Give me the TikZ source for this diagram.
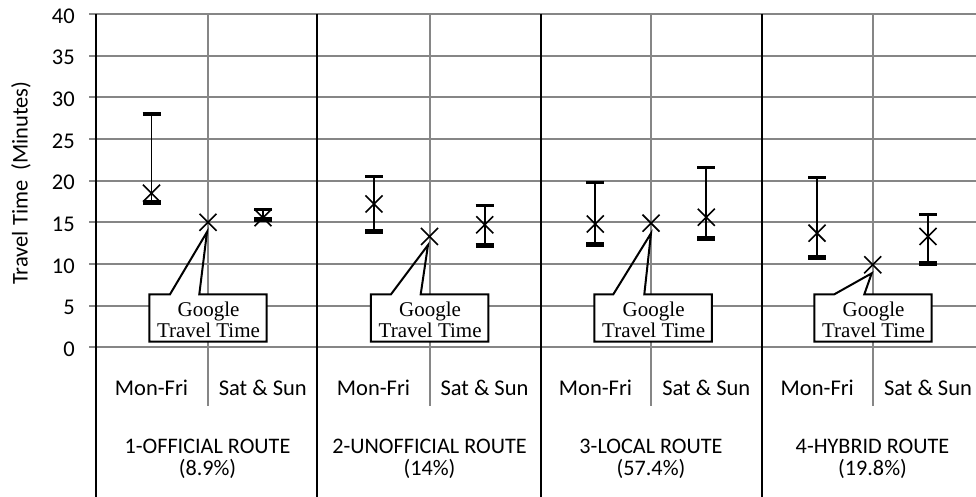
\documentclass[tikz,border=0pt]{standalone}
\usepackage{fontspec}
\newfontfamily\labfont{Carlito}
\newfontfamily\calfont{Liberation Serif}
\usetikzlibrary{calc}
\definecolor{gridgray}{RGB}{134,134,134}
\newcommand\myerrbar[4]{%
  \draw[barline] (#1,{347.3-8.333*#2}) -- (#1,{347.3-8.333*#4});
  \draw[hicap] (#1-9,{347.3-8.333*#4}) -- (#1+9,{347.3-8.333*#4});
  \draw[locap] (#1-9,{347.3-8.333*#2}) -- (#1+9,{347.3-8.333*#2});
  \draw[xmark] (#1-8.5,{347.3-8.333*#3-8.5}) -- (#1+8.5,{347.3-8.333*#3+8.5})
               (#1-8.5,{347.3-8.333*#3+8.5}) -- (#1+8.5,{347.3-8.333*#3-8.5});
}
\newcommand\mygx[2]{%
  \draw[xmark] (#1-8.5,{347.3-8.333*#2-8.5}) -- (#1+8.5,{347.3-8.333*#2+8.5})
               (#1-8.5,{347.3-8.333*#2+8.5}) -- (#1+8.5,{347.3-8.333*#2-8.5});
}
\newcommand\mycallout[6]{%
  \node[gbox] (#1) at (#2,318) {};
  \coordinate (#1tip) at (#5,#6);
  \coordinate (#1bl) at (#3,294.3);
  \coordinate (#1br) at (#4,294.3);
  \fill[white] (#1.north west) rectangle (#1.south east);
  \draw[gline] (#1bl) -- (#1tip) -- (#1br) -- (#1.north east) -- (#1.south east)
     -- (#1.south west) -- (#1.north west) -- cycle;
  \node[gtext] (#1t) at (#2+0.5,319.5) {Google\\Travel Time};
}
\begin{document}
\begin{tikzpicture}[x=1pt,y=-1pt,
  gridl/.style={draw=gridgray,line width=1.8pt},
  divider/.style={draw=black,line width=2.2pt},
  barline/.style={line width=1.8pt},
  hicap/.style={line width=3.2pt},
  locap/.style={line width=5pt},
  xmark/.style={line width=1.6pt},
  gbox/.style={minimum width=117.4pt,minimum height=47.4pt,inner sep=0pt,outer sep=0pt},
  gline/.style={draw=black,line width=2pt,line join=miter},
  gtext/.style={align=center,inner sep=0pt,font=\calfont\fontsize{21}{21.3}\selectfont},
  lbl/.style={inner sep=0pt,font=\labfont\fontsize{22.5}{24}\selectfont},
  grp/.style={inner sep=0pt,align=center,font=\labfont\fontsize{22.2}{21.5}\selectfont}]
\useasboundingbox (0,0) rectangle (976,497);
% horizontal gridlines and tick labels
\foreach \v in {0,5,...,40}{
  \draw[gridl] (89,{347.3-8.333*\v}) -- (976,{347.3-8.333*\v});
  \node[lbl,anchor=base east] (tick\v) at (75,{347.3-8.333*\v+9.3}) {\v};
}
% axis title
\node[lbl,anchor=base,rotate=90] (ytitle) at (27.5,183) {Travel Time\ \ (Minutes)};
% gray category separators
\foreach \x in {208,429.7,650.7,872.7}
  \draw[gridl] (\x,14) -- (\x,405.7);
% black group dividers
\foreach \x in {96,317.3,540.7,762.3}
  \draw[divider] (\x,14) -- (\x,497);
% error bars
\myerrbar{151.5}{17.4}{18.5}{28.0}
\myerrbar{263}{15.3}{15.55}{16.5}
\myerrbar{374}{13.9}{17.2}{20.5}
\myerrbar{484.7}{12.2}{14.7}{17.0}
\myerrbar{595.3}{12.3}{14.8}{19.8}
\myerrbar{706.3}{13.0}{15.6}{21.6}
\myerrbar{817}{10.8}{13.7}{20.4}
\myerrbar{928}{10.0}{13.3}{15.9}
% Google travel time markers
\mygx{208}{15.0}
\mygx{429.5}{13.3}
\mygx{651}{14.9}
\mygx{872.7}{9.9}
% callouts
\mycallout{g1}{208}{170}{199.3}{207}{232}
\mycallout{g2}{429.65}{391}{420.7}{428}{245}
\mycallout{g3}{653.15}{613.3}{644.3}{651}{233.3}
\mycallout{g4}{873}{834.3}{864.3}{871.7}{273.3}
% category labels
\foreach \x/\n in {151.5/a,373.5/b,595.5/c,817.3/d}
  \node[lbl,anchor=base] (mf\n) at (\x,395) {Mon-Fri};
\foreach \x/\n in {262.8/a,484.5/b,706.3/c,928/d}
  \node[lbl,anchor=base] (ss\n) at (\x,395) {Sat \& Sun};
% group labels
\node[grp,anchor=north] (r1) at (207.5,439) {1-OFFICIAL ROUTE\\(8.9\%)};
\node[grp,anchor=north] (r2) at (429.5,439) {2-UNOFFICIAL ROUTE\\(14\%)};
\node[grp,anchor=north] (r3) at (651,439) {3-LOCAL ROUTE\\(57.4\%)};
\node[grp,anchor=north] (r4) at (872.5,439) {4-HYBRID ROUTE\\(19.8\%)};
\end{tikzpicture}
\end{document}
